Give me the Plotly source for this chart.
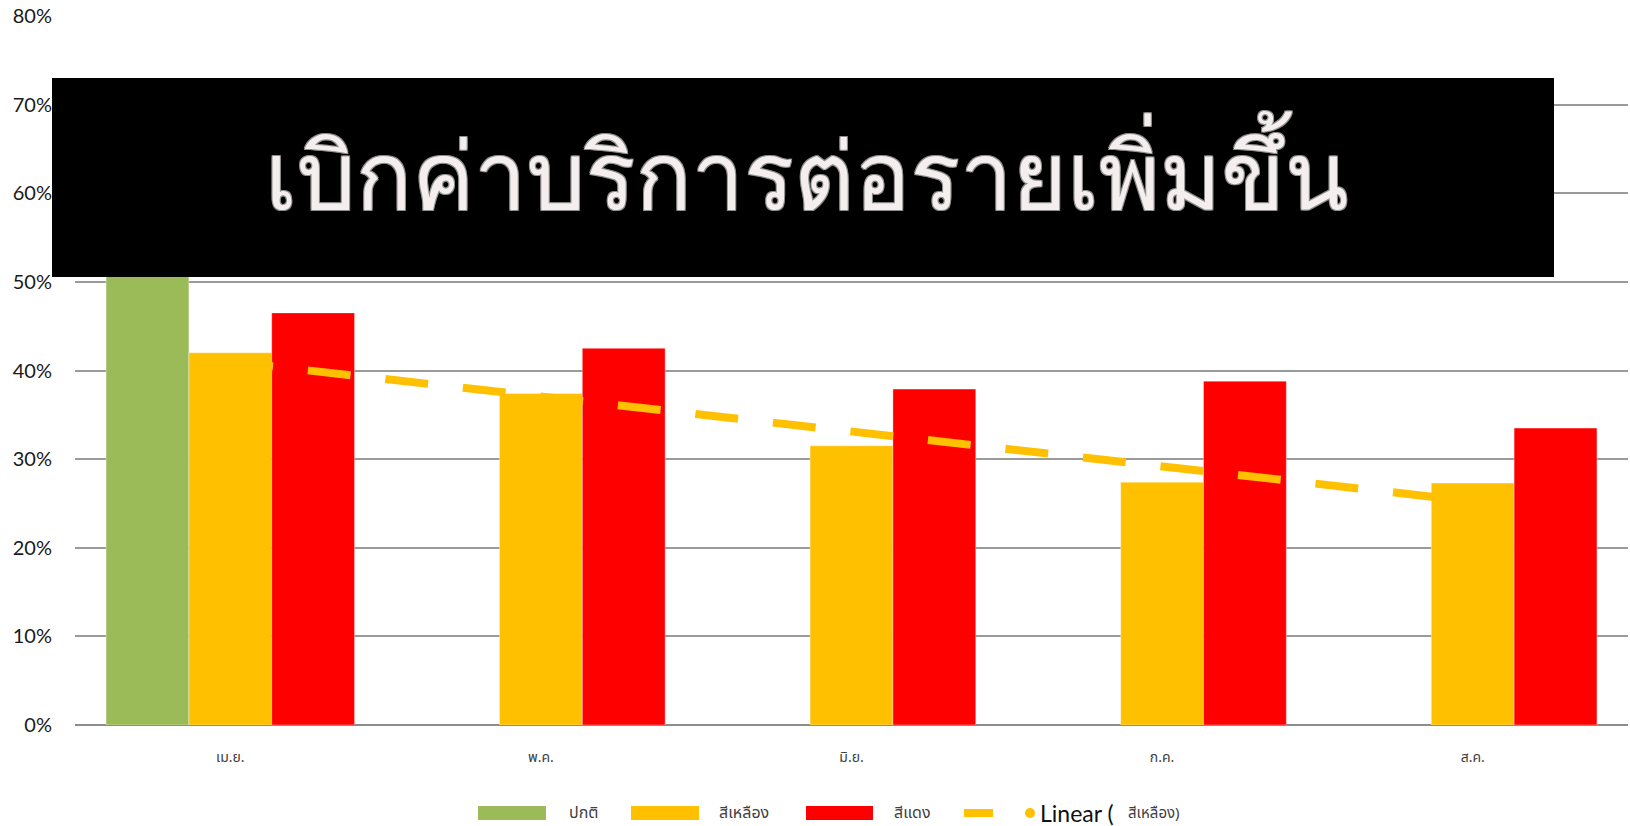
import numpy as np
import plotly.graph_objects as go

# Monthly share of cases, by triage colour
months = ["เม.ย.", "พ.ค.", "มิ.ย.", "ก.ค.", "ส.ค."]
normal = [0.56, None, None, None, None]          # ปกติ
yellow = [0.420, 0.374, 0.315, 0.274, 0.273]     # สีเหลือง
red = [0.465, 0.425, 0.379, 0.388, 0.335]        # สีแดง

series_names = ["ปกติ", "สีเหลือง", "สีแดง"]
title_text = "เบิกค่าบริการต่อรายเพิ่มขึ้น"
y_ticks = [0, 0.1, 0.2, 0.3, 0.4, 0.5, 0.6, 0.7, 0.8]

GREEN = "#9BBB59"
YELLOW = "#FFC000"
RED = "#FF0000"
THAI = "Garuda, Loma, Noto Sans Thai, Noto Sans, sans-serif"
THAI_UI = "Noto Sans Thai, Noto Sans, sans-serif"

W, H = 1630, 826
ML, MR, MT, MB = 75, 2, 16, 101
PW, PH = W - ML - MR, H - MT - MB


def px_x(px):
    return (px - ML) / PW


def px_y(py):
    return (H - MB - py) / PH


# Linear trend fitted to the yellow series
idx = np.arange(1, len(yellow) + 1)
slope, intercept = np.polyfit(idx, yellow, 1)
trend = slope * idx + intercept

fig = go.Figure()
fig.add_bar(x=months, y=normal, name=series_names[0], marker_color=GREEN,
            marker_line=dict(width=0.6, color="rgba(255,255,255,0.6)"))
fig.add_bar(x=months, y=yellow, name=series_names[1], marker_color=YELLOW,
            marker_line=dict(width=0.6, color="rgba(255,255,255,0.6)"))
fig.add_bar(x=months, y=red, name=series_names[2], marker_color=RED,
            marker_line=dict(width=0.6, color="rgba(255,255,255,0.6)"))
fig.add_scatter(x=months, y=trend, mode="lines", name="Linear (สีเหลือง)",
                line=dict(color=YELLOW, width=8, dash="43px,35px"))

shapes = []
annotations = []

# Title banner over the upper part of the plot
shapes.append(dict(type="rect", xref="paper", yref="paper", layer="above",
                   x0=px_x(52), x1=px_x(1554), y0=px_y(277), y1=px_y(78),
                   fillcolor="black", line=dict(width=0)))
outline = "1px 1px 0px #8c8c8c, -1px -1px 0px #8c8c8c, 1px -1px 0px #8c8c8c, -1px 1px 0px #8c8c8c"
annotations.append(dict(xref="paper", yref="paper", x=px_x(807), y=px_y(176),
                        text=title_text, showarrow=False, xanchor="center", yanchor="middle",
                        font=dict(family=THAI, size=93, color="#F4EEEE", shadow=outline)))

# Legend drawn along the bottom
leg_y = 813
for (x0, x1, col, tx, label) in [(478, 546, GREEN, 567, series_names[0]),
                                 (631, 699, YELLOW, 717, series_names[1]),
                                 (806, 873, RED, 892, series_names[2])]:
    shapes.append(dict(type="rect", xref="paper", yref="paper",
                       x0=px_x(x0), x1=px_x(x1), y0=px_y(leg_y + 7), y1=px_y(leg_y - 7),
                       fillcolor=col, line=dict(width=0)))
    annotations.append(dict(xref="paper", yref="paper", x=px_x(tx), y=px_y(leg_y),
                            text=label, showarrow=False, xanchor="left", yanchor="middle",
                            font=dict(family=THAI_UI, size=16, color="#404040")))
shapes.append(dict(type="line", xref="paper", yref="paper",
                   x0=px_x(964), x1=px_x(993), y0=px_y(leg_y), y1=px_y(leg_y),
                   line=dict(color=YELLOW, width=8)))
shapes.append(dict(type="circle", xref="paper", yref="paper",
                   x0=px_x(1025), x1=px_x(1035), y0=px_y(leg_y + 5), y1=px_y(leg_y - 5),
                   fillcolor=YELLOW, line=dict(width=0)))
annotations.append(dict(xref="paper", yref="paper", x=px_x(1038), y=px_y(leg_y),
                        text="Linear (", showarrow=False, xanchor="left", yanchor="middle",
                        font=dict(family="Lato, sans-serif", size=23, color="#111111")))
annotations.append(dict(xref="paper", yref="paper", x=px_x(1126), y=px_y(leg_y),
                        text="สีเหลือง)", showarrow=False, xanchor="left", yanchor="middle",
                        font=dict(family=THAI_UI, size=15, color="#404040")))

fig.update_layout(
    width=W, height=H,
    margin=dict(l=ML, r=MR, t=MT, b=MB, pad=0),
    paper_bgcolor="white", plot_bgcolor="white",
    barmode="group", bargap=0.2, bargroupgap=0,
    showlegend=False,
    shapes=shapes, annotations=annotations,
    xaxis=dict(type="category", range=[-0.5, len(months) - 0.5], showgrid=False,
               showline=False, zeroline=False, ticks="", ticklabelstandoff=22,
               tickfont=dict(family=THAI_UI, size=14, color="#404040")),
    yaxis=dict(range=[0, 0.8], tickvals=y_ticks, tickformat=".0%",
               showgrid=True, gridcolor="#9a9a9a", gridwidth=1.5,
               zeroline=True, zerolinecolor="#8c8c8c", zerolinewidth=2,
               showline=False, ticks="", ticklabelstandoff=22,
               tickfont=dict(family="Lato, sans-serif", size=20, color="#1a1a1a")),
)

fig.write_html("out.html")
